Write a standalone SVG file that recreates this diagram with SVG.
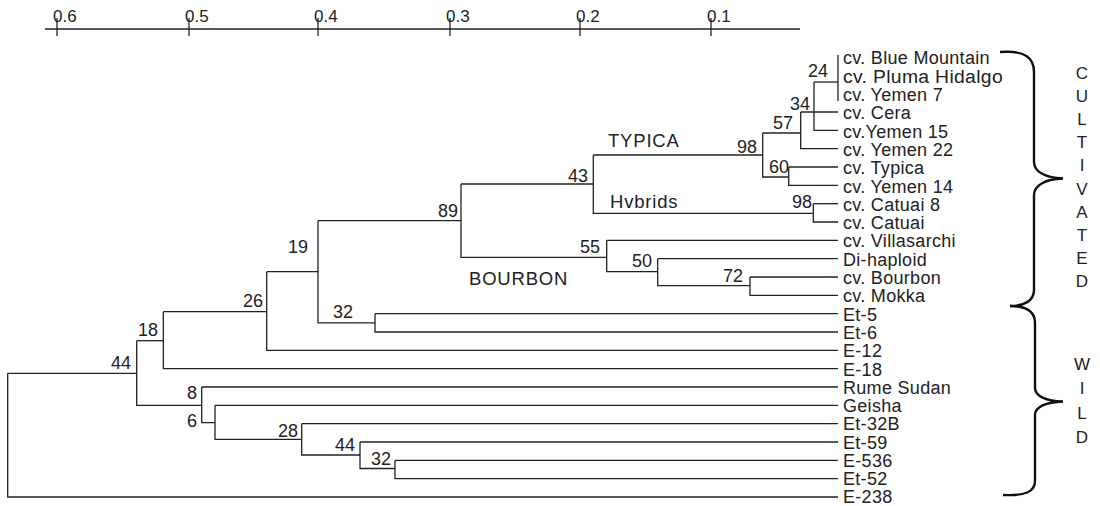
<svg xmlns="http://www.w3.org/2000/svg" width="1100" height="506" viewBox="0 0 1100 506">
<style>
.ln{stroke:#222;stroke-width:1.3;fill:none}
.br{stroke:#111;stroke-width:2.4;fill:none}
text{font-family:"Liberation Sans",Arial,sans-serif;fill:#222}
.lf{font-size:18px;letter-spacing:0.3px}
.nl{font-size:18px;text-anchor:end}
.ax{font-size:17px}
.cl{font-size:17px;text-anchor:middle}
.gp{font-size:18.5px;letter-spacing:0.8px}
</style>
<rect width="1100" height="506" fill="#fff"/>
<g id="axis">
<line class="ln" x1="45" y1="29" x2="800" y2="29"/>
<g class="ln">
<line x1="57" y1="18" x2="57" y2="36"/>
<line x1="189" y1="18" x2="189" y2="36"/>
<line x1="318" y1="18" x2="318" y2="36"/>
<line x1="450" y1="18" x2="450" y2="36"/>
<line x1="580" y1="18" x2="580" y2="36"/>
<line x1="711" y1="18" x2="711" y2="36"/>
</g>
<text class="ax" x="53" y="21.5">0.6</text>
<text class="ax" x="185" y="21.5">0.5</text>
<text class="ax" x="314" y="21.5">0.4</text>
<text class="ax" x="446" y="21.5">0.3</text>
<text class="ax" x="576" y="21.5">0.2</text>
<text class="ax" x="707" y="21.5">0.1</text>
</g>
<g id="connectors" class="ln">
<path d="M7.7,373.3 V497 H838"/>
<path d="M7.7,373.3 H136.7"/>
<path d="M136.7,340.7 V405.3 H201.7"/>
<path d="M136.7,340.7 H163.3"/>
<path d="M163.3,311.7 V368.7 H838"/>
<path d="M163.3,311.7 H266.7"/>
<path d="M266.7,271.7 V350.3 H838"/>
<path d="M266.7,271.7 H318"/>
<path d="M318,220.7 V322.8 H375"/>
<path d="M318,220.7 H461"/>
<path d="M375,313.7 V332 H838"/>
<path d="M375,313.7 H838"/>
<path d="M461,184 V257.3 H606.7"/>
<path d="M461,184 H593.3"/>
<path d="M593.3,155 V213.3 H813.3"/>
<path d="M593.3,155 H762.7"/>
<path d="M762.7,133 V177 H788.7"/>
<path d="M762.7,133 H800.7"/>
<path d="M800.7,112 V148.7 H838"/>
<path d="M800.7,112 H838"/>
<path d="M814,82 V130.3 H838"/>
<path d="M814,82 H838"/>
<path d="M838,55 V101"/>
<path d="M788.7,167 V185.3 H838"/>
<path d="M788.7,167 H838"/>
<path d="M813.3,203.7 V222 H838"/>
<path d="M813.3,203.7 H838"/>
<path d="M606.7,240.3 V271.7 H657.7"/>
<path d="M606.7,240.3 H838"/>
<path d="M657.7,258.7 V285.7 H750"/>
<path d="M657.7,258.7 H838"/>
<path d="M750,277 V295.3 H838"/>
<path d="M750,277 H838"/>
<path d="M201.7,387 V422.7 H215"/>
<path d="M201.7,387 H838"/>
<path d="M215,405.3 V439.3 H301.7"/>
<path d="M215,405.3 H838"/>
<path d="M301.7,423.7 V455 H360"/>
<path d="M301.7,423.7 H838"/>
<path d="M360,442 V468.5 H395"/>
<path d="M360,442 H838"/>
<path d="M395,460.3 V478.7 H838"/>
<path d="M395,460.3 H838"/>
</g>
<g id="node-labels">
<text class="nl" x="828" y="77">24</text>
<text class="nl" x="810" y="110">34</text>
<text class="nl" x="793" y="129">57</text>
<text class="nl" x="757" y="153">98</text>
<text class="nl" x="789" y="173">60</text>
<text class="nl" x="812" y="208">98</text>
<text class="nl" x="588" y="182">43</text>
<text class="nl" x="458" y="217">89</text>
<text class="nl" x="308" y="252.5">19</text>
<text class="nl" x="600" y="253">55</text>
<text class="nl" x="652" y="266.5">50</text>
<text class="nl" x="743" y="281.5">72</text>
<text class="nl" x="353" y="318">32</text>
<text class="nl" x="263" y="307">26</text>
<text class="nl" x="158" y="335.5">18</text>
<text class="nl" x="131" y="369">44</text>
<text class="nl" x="197" y="399">8</text>
<text class="nl" x="197" y="426.5">6</text>
<text class="nl" x="298" y="436.5">28</text>
<text class="nl" x="355" y="451">44</text>
<text class="nl" x="391" y="465">32</text>
</g>
<g id="group-labels">
<text class="gp" x="608" y="147">TYPICA</text>
<text class="gp" x="610" y="208">Hvbrids</text>
<text class="gp" x="469" y="285">BOURBON</text>
</g>
<g id="leaves" class="lf">
<text x="843" y="64.3">cv. Blue Mountain</text>
<text x="843" y="82.7" textLength="160" lengthAdjust="spacingAndGlyphs">cv. Pluma Hidalgo</text>
<text x="843" y="101">cv. Yemen 7</text>
<text x="843" y="119.3">cv. Cera</text>
<text x="843" y="137.6">cv.Yemen 15</text>
<text x="843" y="155.9">cv. Yemen 22</text>
<text x="843" y="174.2">cv. Typica</text>
<text x="843" y="192.5">cv. Yemen 14</text>
<text x="843" y="210.8">cv. Catuai 8</text>
<text x="843" y="229.1">cv. Catuai</text>
<text x="843" y="247.4">cv. Villasarchi</text>
<text x="843" y="265.7">Di-haploid</text>
<text x="843" y="284">cv. Bourbon</text>
<text x="843" y="302.3">cv. Mokka</text>
<text x="843" y="320.6">Et-5</text>
<text x="843" y="338.9">Et-6</text>
<text x="843" y="357.2">E-12</text>
<text x="843" y="375.5">E-18</text>
<text x="843" y="393.8">Rume Sudan</text>
<text x="843" y="412.1">Geisha</text>
<text x="843" y="430.4">Et-32B</text>
<text x="843" y="448.7">Et-59</text>
<text x="843" y="467">E-536</text>
<text x="843" y="485.3">Et-52</text>
<text x="843" y="503.3">E-238</text>
</g>
<g id="cultivated">
<path class="br" d="M1000,52 C1025,50 1034,58 1034,72 L1034,162 C1034,172 1046,178 1063,178.5 C1046,179 1034,185 1034,195 L1034,290 C1034,301 1024,306 1010,306"/>
<text class="cl" x="1082" y="78.5">C</text>
<text class="cl" x="1082" y="101.7">U</text>
<text class="cl" x="1082" y="124.9">L</text>
<text class="cl" x="1082" y="148.1">T</text>
<text class="cl" x="1082" y="171.3">I</text>
<text class="cl" x="1082" y="194.5">V</text>
<text class="cl" x="1082" y="217.7">A</text>
<text class="cl" x="1082" y="240.9">T</text>
<text class="cl" x="1082" y="264.1">E</text>
<text class="cl" x="1082" y="287.3">D</text>
</g>
<g id="wild">
<path class="br" d="M1010,306 C1025,306 1035,311 1035,323 L1035,388 C1035,396 1046,401 1063,401.5 C1046,402 1035,407 1035,415 L1035,481 C1035,492 1025,496 1003,495"/>
<text class="cl" x="1082" y="370">W</text>
<text class="cl" x="1082" y="394.3">I</text>
<text class="cl" x="1082" y="418.6">L</text>
<text class="cl" x="1082" y="443">D</text>
</g>
</svg>
